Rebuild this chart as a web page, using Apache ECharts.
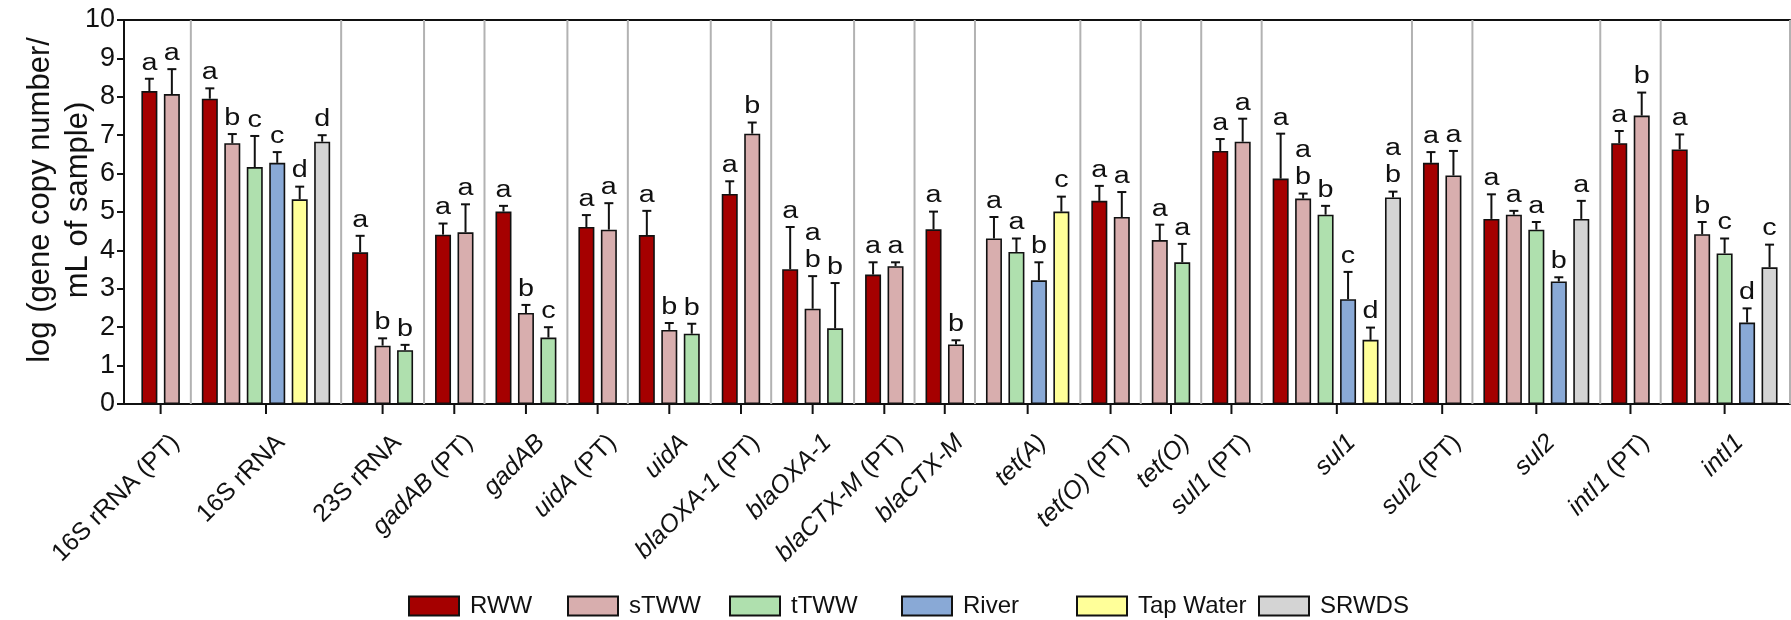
<!DOCTYPE html>
<html><head><meta charset="utf-8">
<script src="https://cdn.jsdelivr.net/npm/echarts@6/dist/echarts.min.js"></script>
<style>html,body{margin:0;padding:0;background:#fff}#c{width:1791px;height:620px}</style>
</head><body><div id="c"></div>
<script>
// ---------------- DATA ----------------
const categories = ['16S rRNA (PT)', '16S rRNA', '23S rRNA', 'gadAB (PT)', 'gadAB', 'uidA (PT)', 'uidA',
  'blaOXA-1 (PT)', 'blaOXA-1', 'blaCTX-M (PT)', 'blaCTX-M', 'tet(A)', 'tet(O) (PT)', 'tet(O)',
  'sul1 (PT)', 'sul1', 'sul2 (PT)', 'sul2', 'intI1 (PT)', 'intI1'];
const seriesNames = ['RWW', 'sTWW', 'tTWW', 'River', 'Tap Water', 'SRWDS'];

const RWW       = [8.15, 7.95, 3.95, 4.41, 5.01, 4.61, 4.40, 5.47, 3.51, 3.37, 4.55, null, 5.29, null, 6.59, 5.87, 6.28, 4.82, 6.79, 6.63];
const sTWW      = [8.07, 6.79, 1.52, 4.47, 2.37, 4.54, 1.93, 7.04, 2.48, 3.59, 1.55, 4.31, 4.87, 4.27, 6.83, 5.35, 5.95, 4.93, 7.51, 4.42];
const tTWW      = [null, 6.17, 1.40, null, 1.73, null, 1.83, null, 1.97, null, null, 3.96, null, 3.69, null, 4.93, null, 4.54, null, 3.92];
const River     = [null, 6.28, null, null, null, null, null, null, null, null, null, 3.22, null, null, null, 2.73, null, 3.19, null, 2.12];
const TapWater  = [null, 5.33, null, null, null, null, null, null, null, null, null, 5.01, null, null, null, 1.67, null, null, null, null];
const SRWDS     = [null, 6.83, null, null, null, null, null, null, null, null, null, null, null, null, null, 5.38, null, 4.82, null, 3.56];

const RWW_err      = [0.32, 0.27, 0.43, 0.29, 0.15, 0.31, 0.63, 0.33, 1.10, 0.32, 0.46, null, 0.39, null, 0.31, 1.17, 0.28, 0.64, 0.32, 0.39];
const sTWW_err     = [0.65, 0.24, 0.19, 0.73, 0.21, 0.69, 0.18, 0.29, 0.85, 0.10, 0.11, 0.56, 0.65, 0.40, 0.60, 0.13, 0.64, 0.10, 0.60, 0.32];
const tTWW_err     = [null, 0.81, 0.14, null, 0.27, null, 0.26, null, 1.18, null, null, 0.35, null, 0.48, null, 0.23, null, 0.20, null, 0.39];
const River_err    = [null, 0.28, null, null, null, null, null, null, null, null, null, 0.47, null, null, null, 0.71, null, 0.11, null, 0.37];
const TapWater_err = [null, 0.33, null, null, null, null, null, null, null, null, null, 0.39, null, null, null, 0.32, null, null, null, null];
const SRWDS_err    = [null, 0.17, null, null, null, null, null, null, null, null, null, null, null, null, null, 0.15, null, 0.47, null, 0.59];

const RWW_sig      = ['a','a','a','a','a','a','a','a','a','a','a',null,'a',null,'a','a','a','a','a','a'];
const sTWW_sig     = ['a','b','b','a','b','a','b','b','ab','a','b','a','a','a','a','ab','a','a','b','b'];
const tTWW_sig     = [null,'c','b',null,'c',null,'b',null,'b',null,null,'a',null,'a',null,'b',null,'a',null,'c'];
const River_sig    = [null,'c',null,null,null,null,null,null,null,null,null,'b',null,null,null,'c',null,'b',null,'d'];
const TapWater_sig = [null,'d',null,null,null,null,null,null,null,null,null,'c',null,null,null,'d',null,null,null,null];
const SRWDS_sig    = [null,'d',null,null,null,null,null,null,null,null,null,null,null,null,null,'ab',null,'a',null,'c'];

const yMin = 0, yMax = 10, yInterval = 1;
const yTitle = 'log (gene copy number/\nmL of sample)';

// ---------------- STYLE / LAYOUT ----------------
const colors = ['#a50000', '#d8aeae', '#afe0ae', '#89a9d6', '#ffff99', '#d4d4d4'];
const FONT = 'Liberation Sans, Arial, Helvetica, sans-serif';
const LEFT_PAD = 1.13, GAP = 0.69, RIGHT_PAD = 0.91;
const legendLeft = [403, 562, 724, 896, 1071, 1253];
const XLAB_SIZE = 25;

const values = [RWW, sTWW, tTWW, River, TapWater, SRWDS];
const errors = [RWW_err, sTWW_err, tTWW_err, River_err, TapWater_err, SRWDS_err];
const sigs = [RWW_sig, sTWW_sig, tTWW_sig, River_sig, TapWater_sig, SRWDS_sig];

// compute slot positions (in axis units)
const barData = values.map(() => []);
const marks = [];
const centers = [];
const bounds = [];
let cursor = LEFT_PAD, last = 0;
categories.forEach((c, i) => {
  const present = [];
  values.forEach((arr, s) => { if (arr[i] != null) present.push(s); });
  if (i > 0) bounds.push((last + cursor) / 2);
  present.forEach((s, j) => {
    const x = cursor + j;
    barData[s].push([x, values[s][i]]);
    marks.push({ x: x, v: values[s][i], e: errors[s][i] || 0, sig: sigs[s][i] });
  });
  centers.push(cursor + (present.length - 1) / 2);
  last = cursor + present.length - 1;
  cursor = last + 1 + GAP;
});
const xMax = last + RIGHT_PAD;
bounds.push(xMax);

function richLabel(name) {
  if (/^\d\dS/.test(name)) return '{n|' + name + '}';
  const m = name.match(/^(.*?)( \(PT\))?$/);
  return '{i|' + m[1] + '}' + (m[2] ? '{n|' + m[2] + '}' : '');
}

const chart = echarts.init(document.getElementById('c'), null, { renderer: 'canvas' });

const series = [];
seriesNames.forEach((n, s) => {
  series.push({
    name: n, type: 'bar', data: barData[s], barWidth: 16, barGap: '-100%', z: 2,
    itemStyle: { color: colors[s], borderColor: '#111', borderWidth: 1.6 },
    emphasis: { disabled: true }, animation: false
  });
});
series.push({
  type: 'custom', name: 'sep', z: 1, silent: true, animation: false,
  data: bounds.map(b => [b, 0]),
  renderItem: (params, api) => {
    const p0 = api.coord([api.value(0), yMin]);
    const p1 = api.coord([api.value(0), yMax]);
    return { type: 'line', shape: { x1: p0[0], y1: p0[1], x2: p1[0], y2: p1[1] }, style: { stroke: '#b2b2b2', lineWidth: 2 } };
  }
});
series.push({
  type: 'custom', name: 'err', z: 3, silent: true, animation: false,
  data: marks.map(m => [m.x, m.v, m.e]),
  renderItem: (params, api) => {
    const x = api.value(0), v = api.value(1), e = api.value(2);
    const p0 = api.coord([x, v]), p1 = api.coord([x, v + e]);
    const cap = 4.5;
    return { type: 'group', children: [
      { type: 'line', shape: { x1: p0[0], y1: p0[1], x2: p1[0], y2: p1[1] }, style: { stroke: '#111', lineWidth: 2 } },
      { type: 'line', shape: { x1: p1[0] - cap, y1: p1[1], x2: p1[0] + cap, y2: p1[1] }, style: { stroke: '#111', lineWidth: 2 } }
    ] };
  }
});
series.push({
  type: 'custom', name: 'sig', z: 4, silent: true, animation: false,
  data: marks.map(m => [m.x, m.v + m.e]),
  renderItem: (params, api) => {
    const m = marks[params.dataIndex];
    const p = api.coord([api.value(0), api.value(1)]);
    return { type: 'text', x: p[0], y: p[1] - 2, scaleX: 1.25,
      style: { text: (m.sig || '').split('').join('\n'), fill: '#111', fontSize: 23, fontFamily: FONT,
        lineHeight: 27, align: 'center', verticalAlign: 'bottom' } };
  }
});
series.push({
  type: 'custom', name: 'xlab', z: 4, silent: true, animation: false,
  data: centers.map(c => [c, yMin]),
  renderItem: (params, api) => {
    const p = api.coord([api.value(0), yMin]);
    return { type: 'group', children: [
      { type: 'line', shape: { x1: p[0], y1: p[1], x2: p[0], y2: p[1] + 10 }, style: { stroke: '#111', lineWidth: 2 } },
      { type: 'text', x: p[0] + 6, y: p[1] + 26, rotation: Math.PI / 4,
        style: { text: richLabel(categories[params.dataIndex]), align: 'right', verticalAlign: 'top',
          fill: '#111', fontSize: XLAB_SIZE, fontFamily: FONT,
          rich: { i: { fontStyle: 'italic', fontSize: XLAB_SIZE, fontFamily: FONT, fill: '#111' },
                  n: { fontSize: XLAB_SIZE, fontFamily: FONT, fill: '#111' } } } }
    ] };
  }
});

const option = {
  animation: false,
  backgroundColor: '#fff',
  grid: { left: 124, right: 1, top: 20, bottom: 216, containLabel: false, outerBoundsMode: 'none' },
  legend: seriesNames.map((n, s) => ({
    data: [n], left: legendLeft[s], top: 589, itemWidth: 50, itemHeight: 19, itemGap: 0,
    selectedMode: false, icon: 'rect',
    textStyle: { fontSize: 24, fontFamily: FONT, color: '#111', padding: [0, 0, 0, 6] }
  })),
  xAxis: [
    { type: 'value', min: 0, max: xMax, position: 'bottom',
      axisLine: { show: true, lineStyle: { color: '#111', width: 2 } },
      axisTick: { show: false }, axisLabel: { show: false }, splitLine: { show: false } },
    { type: 'value', min: 0, max: xMax, position: 'top',
      axisLine: { show: true, lineStyle: { color: '#111', width: 2 } },
      axisTick: { show: false }, axisLabel: { show: false }, splitLine: { show: false } }
  ],
  yAxis: {
    type: 'value', min: yMin, max: yMax, interval: yInterval,
    name: yTitle, nameLocation: 'middle', nameRotate: 90, nameGap: 27, nameMoveOverlap: false,
    nameTextStyle: { fontSize: 31, fontFamily: FONT, color: '#111', lineHeight: 38, align: 'center', padding: [0, 0, 0, 24] },
    axisLine: { show: true, lineStyle: { color: '#111', width: 2 } },
    axisTick: { show: true, inside: false, length: 7, lineStyle: { color: '#111', width: 2 } },
    axisLabel: { fontSize: 27, fontFamily: FONT, color: '#111', margin: 9 },
    splitLine: { show: false }
  },
  series: series
};
chart.setOption(option);
</script></body></html>
